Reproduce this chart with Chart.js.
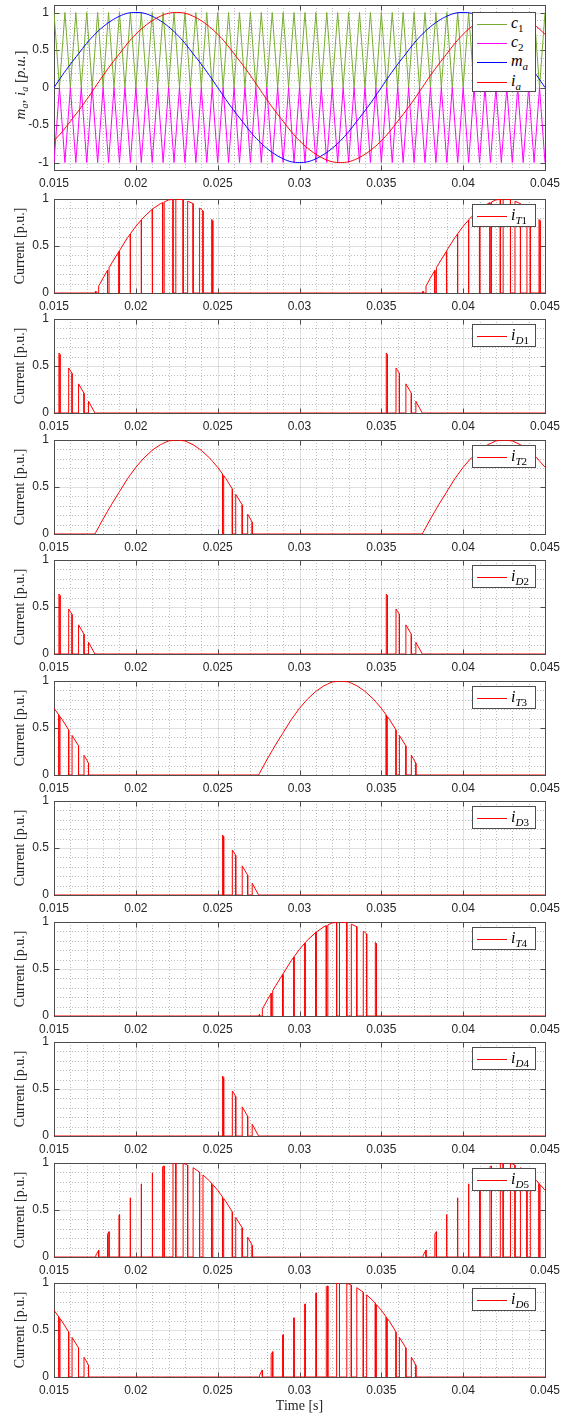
<!DOCTYPE html>
<html>
<head>
<meta charset="utf-8">
<script src="https://cdn.jsdelivr.net/npm/chart.js@4.4.1/dist/chart.umd.min.js"></script>
<style>
  html, body { margin: 0; padding: 0; background: #fff; }
  #figure { position: relative; width: 562px; height: 1419px; overflow: hidden; }
  #figure canvas { position: absolute; left: 0; }
  .legend { position: absolute; left: 472px; width: 64px; background: #fff; border: 1px solid #4d4d4d; box-sizing: border-box; font-family: 'Liberation Serif', 'Times New Roman', serif; color: #000; z-index: 5; }
  .legend .row { position: absolute; left: 0; right: 0; height: 18px; }
  .legend .swatch { position: absolute; left: 4px; top: 9px; width: 30px; height: 1px; }
  .legend .label { position: absolute; left: 38px; top: -1px; font-size: 16px; line-height: 18px; white-space: nowrap; }
  .legend sub { font-size: 11px; vertical-align: -4px; line-height: 0; }
  .ytitle { position: absolute; width: 160px; height: 20px; line-height: 20px; text-align: center; transform: rotate(-90deg); font-family: 'Liberation Serif', 'Times New Roman', serif; font-size: 15px; color: #262626; white-space: nowrap; }
  .ytitle sub { font-size: 10px; vertical-align: -3px; line-height: 0; }
</style>
</head>
<body>
<div id="figure"></div>
<script>
// time window and axis ticks
const tStart = 0.015;
const tEnd = 0.045;
const timeTicks = [0.015, 0.02, 0.025, 0.03, 0.035, 0.04, 0.045];
const signalTicks = [-1, -0.5, 0, 0.5, 1];
const currentTicks = [0, 0.5, 1];

// reference m_a and phase current i_a, sampled every 0.5 ms from 0.015 s
const sampleStep = 0.0005;
const modulation = [
  0, 0.16, 0.31, 0.45, 0.59, 0.71, 0.81, 0.89, 0.95, 0.99, 1, 0.99, 0.95, 0.89, 0.81, 0.71, 0.59, 0.45, 0.31, 0.16,
  0, -0.16, -0.31, -0.45, -0.59, -0.71, -0.81, -0.89, -0.95, -0.99, -1, -0.99, -0.95, -0.89, -0.81, -0.71, -0.59, -0.45, -0.31, -0.16,
  0, 0.16, 0.31, 0.45, 0.59, 0.71, 0.81, 0.89, 0.95, 0.99, 1, 0.99, 0.95, 0.89, 0.81, 0.71, 0.59, 0.45, 0.31, 0.16, 0
];
const phaseCurrent = [
  -0.71, -0.59, -0.45, -0.31, -0.16, 0, 0.16, 0.31, 0.45, 0.59, 0.71, 0.81, 0.89, 0.95, 0.99, 1, 0.99, 0.95, 0.89, 0.81,
  0.71, 0.59, 0.45, 0.31, 0.16, 0, -0.16, -0.31, -0.45, -0.59, -0.71, -0.81, -0.89, -0.95, -0.99, -1, -0.99, -0.95, -0.89, -0.81,
  -0.71, -0.59, -0.45, -0.31, -0.16, 0, 0.16, 0.31, 0.45, 0.59, 0.71, 0.81, 0.89, 0.95, 0.99, 1, 0.99, 0.95, 0.89, 0.81, 0.71
];

// upper carrier c1 vertices every half carrier period (1500 Hz); c2 is its mirror
const carrierStep = 1 / 3000;
const carrierUpper = [
  1, 0, 1, 0, 1, 0, 1, 0, 1, 0, 1, 0, 1, 0, 1, 0, 1, 0, 1, 0, 1, 0, 1, 0, 1, 0, 1, 0, 1, 0,
  1, 0, 1, 0, 1, 0, 1, 0, 1, 0, 1, 0, 1, 0, 1, 0, 1, 0, 1, 0, 1, 0, 1, 0, 1, 0, 1, 0, 1, 0,
  1, 0, 1, 0, 1, 0, 1, 0, 1, 0, 1, 0, 1, 0, 1, 0, 1, 0, 1, 0, 1, 0, 1, 0, 1, 0, 1, 0, 1, 0, 1
];

// signed duty of each carrier period (positive = P pulse, negative = N pulse)
const dutyPerPeriod = [
  0.10, 0.31, 0.50, 0.67, 0.81, 0.91, 0.98, 1.00, 0.98, 0.91, 0.81, 0.67, 0.50, 0.31, 0.10,
  -0.10, -0.31, -0.50, -0.67, -0.81, -0.91, -0.98, -1.00, -0.98, -0.91, -0.81, -0.67, -0.50, -0.31, -0.10,
  0.10, 0.31, 0.50, 0.67, 0.81, 0.91, 0.98, 1.00, 0.98, 0.91, 0.81, 0.67, 0.50, 0.31, 0.10
];

// device subscript markup and when it carries the phase current
const devices = [
  { sub: '<i>T</i>1', on: (s, pos) => s === 'P' && pos },
  { sub: '<i>D</i>1', on: (s, pos) => s === 'P' && !pos },
  { sub: '<i>T</i>2', on: (s, pos) => s !== 'N' && pos },
  { sub: '<i>D</i>2', on: (s, pos) => s === 'P' && !pos },
  { sub: '<i>T</i>3', on: (s, pos) => s !== 'P' && !pos },
  { sub: '<i>D</i>3', on: (s, pos) => s === 'N' && pos },
  { sub: '<i>T</i>4', on: (s, pos) => s === 'N' && !pos },
  { sub: '<i>D</i>4', on: (s, pos) => s === 'N' && pos },
  { sub: '<i>D</i>5', on: (s, pos) => s === 'O' && pos },
  { sub: '<i>D</i>6', on: (s, pos) => s === 'O' && !pos },
];

const panelTops = [5, 199, 319, 440, 560, 681, 801, 922, 1042, 1163, 1283];
const topHeight = 165;
const panelHeight = 94;

const INK = '#262626';
const tickFont = { family: "'Liberation Sans', Arial, sans-serif", size: 12 };
const serifFont = { family: "'Liberation Serif', 'Times New Roman', serif", size: 14 };

const figure = document.getElementById('figure');
const sampleTimes = modulation.map((_, j) => tStart + j * sampleStep);

function currentAt(t) {
  const pos = (t - tStart) / sampleStep;
  const j = Math.max(0, Math.min(Math.floor(pos), phaseCurrent.length - 2));
  const f = pos - j;
  return phaseCurrent[j] + (phaseCurrent[j + 1] - phaseCurrent[j]) * f;
}

const pulses = dutyPerPeriod.map((d, k) => {
  const mid = tStart + (2 * k + 1) * carrierStep;
  const half = Math.abs(d) * carrierStep;
  return { from: mid - half, to: mid + half, level: d > 0 ? 'P' : 'N' };
});

function stateAt(t) {
  for (const p of pulses) if (t >= p.from && t < p.to) return p.level;
  return 'O';
}

function conductionTrace(conducts) {
  const times = sampleTimes.slice();
  pulses.forEach((p) => times.push(p.from, p.to));
  times.sort((a, b) => a - b);
  const eps = 1e-9;
  const valueAt = (t) => {
    const i = currentAt(t);
    return conducts(stateAt(t), i > 0) ? Math.abs(i) : 0;
  };
  const pts = [];
  times.forEach((t, n) => {
    if (n > 0 && t - times[n - 1] < 1e-12) return;
    const before = t > tStart ? valueAt(t - eps) : null;
    const after = t < tEnd ? valueAt(t + eps) : null;
    if (before !== null) pts.push({ x: t, y: before });
    if (after !== null && (before === null || Math.abs(after - before) > 1e-4)) pts.push({ x: t, y: after });
  });
  return pts;
}

// grid, box and inward ticks in the MATLAB look
const axesPlugin = {
  id: 'matlabAxes',
  beforeDatasetsDraw(chart) {
    const { ctx, chartArea: a, scales: { x, y } } = chart;
    const line = (x1, y1, x2, y2) => { ctx.beginPath(); ctx.moveTo(x1, y1); ctx.lineTo(x2, y2); ctx.stroke(); };
    const majorsY = chart.options.scales.y.majors;
    const mX = timeTicks.map((v) => Math.round(v * 1000));
    const mY = majorsY.map((v) => Math.round(v * 10));
    const px = (v) => Math.round(x.getPixelForValue(v)) + 0.5;
    const py = (v) => Math.round(y.getPixelForValue(v)) + 0.5;
    ctx.save();
    ctx.lineWidth = 1;
    // minor grid
    ctx.strokeStyle = 'rgba(38,38,38,0.3)';
    ctx.setLineDash([1, 2]);
    for (let n = 15; n <= 45; n++) {
      if (mX.includes(n)) continue;
      line(px(n / 1000), a.top, px(n / 1000), a.bottom);
    }
    for (let n = Math.ceil(y.min * 10 - 1e-6); n <= Math.floor(y.max * 10 + 1e-6); n++) {
      if (mY.includes(n)) continue;
      line(a.left, py(n / 10), a.right, py(n / 10));
    }
    // major grid
    ctx.setLineDash([]);
    ctx.strokeStyle = 'rgba(38,38,38,0.14)';
    timeTicks.forEach((v) => line(px(v), a.top, px(v), a.bottom));
    majorsY.forEach((v) => line(a.left, py(v), a.right, py(v)));
    // box and ticks
    ctx.strokeStyle = '#4d4d4d';
    const L = Math.round(a.left) + 0.5, R = Math.round(a.right) + 0.5;
    const T = Math.round(a.top) + 0.5, B = Math.round(a.bottom) + 0.5;
    ctx.strokeRect(L, T, R - L, B - T);
    timeTicks.forEach((v) => { line(px(v), B, px(v), B - 5); line(px(v), T, px(v), T + 5); });
    majorsY.forEach((v) => { line(L, py(v), L + 5, py(v)); line(R, py(v), R - 5, py(v)); });
    ctx.restore();
  },
};

const noScalePadding = (s) => { s.paddingLeft = 0; s.paddingRight = 0; s.paddingTop = 0; s.paddingBottom = 0; };

function makePanel({ top, height, datasets, yMin, yMax, yTicks, yTitle, xTitle }) {
  const labelSpace = xTitle ? 42 : 26;
  const canvas = document.createElement('canvas');
  canvas.width = 562;
  canvas.height = 6 + height + labelSpace;
  canvas.style.top = (top - 6) + 'px';
  figure.appendChild(canvas);
  return new Chart(canvas, {
    type: 'line',
    data: { datasets },
    options: {
      responsive: false,
      animation: false,
      events: [],
      layout: { autoPadding: false, padding: { top: 6, right: 17, left: 0, bottom: 0 } },
      plugins: { legend: { display: false }, tooltip: { enabled: false } },
      elements: { point: { radius: 0 }, line: { borderWidth: 1, tension: 0 } },
      scales: {
        x: {
          type: 'linear', min: tStart, max: tEnd,
          grid: { display: false, drawTicks: false }, border: { display: false },
          afterBuildTicks: (s) => { s.ticks = timeTicks.map((v) => ({ value: v })); },
          afterFit: (s) => { s.height = labelSpace; noScalePadding(s); },
          ticks: { padding: 6, color: INK, font: tickFont, maxRotation: 0, autoSkip: false, callback: (v) => String(v) },
          title: xTitle
            ? { display: true, text: xTitle, color: INK, font: serifFont, padding: { top: 0, bottom: 4 } }
            : { display: false },
        },
        y: {
          type: 'linear', min: yMin, max: yMax, majors: yTicks,
          grid: { display: false, drawTicks: false }, border: { display: false },
          afterBuildTicks: (s) => { s.ticks = yTicks.map((v) => ({ value: v })); },
          afterFit: (s) => { s.width = 54; noScalePadding(s); },
          ticks: { padding: 5, color: INK, font: tickFont, autoSkip: false, callback: (v) => String(v) },
          title: yTitle
            ? { display: true, text: yTitle, color: INK, font: serifFont, padding: { top: 12, bottom: 0 } }
            : { display: false },
        },
      },
    },
    plugins: [axesPlugin],
  });
}

function addLegend(top, entries, rowGap) {
  const box = document.createElement('div');
  box.className = 'legend';
  box.style.top = top + 'px';
  box.style.height = (entries.length === 1 ? 23 : 80) + 'px';
  entries.forEach((e, i) => {
    const row = document.createElement('div');
    row.className = 'row';
    row.style.top = (entries.length === 1 ? 2 : Math.round(2 + i * rowGap)) + 'px';
    row.innerHTML = `<span class="swatch" style="background:${e.color}"></span><span class="label">${e.html}</span>`;
    box.appendChild(row);
  });
  figure.appendChild(box);
}

// top panel: carriers, reference and phase current
const series = (values, times) => values.map((v, i) => ({ x: times(i), y: v }));
const vertexTime = (i) => tStart + i * carrierStep;
const sampleTime = (i) => sampleTimes[i];

makePanel({
  top: panelTops[0], height: topHeight,
  yMin: -1.1, yMax: 1.1, yTicks: signalTicks,
  datasets: [
    { data: series(phaseCurrent, sampleTime), borderColor: '#ff0000', tension: 0.4 },
    { data: series(modulation, sampleTime), borderColor: '#0000ff', tension: 0.4 },
    { data: series(carrierUpper.map((v) => -v), vertexTime), borderColor: '#ff00ff' },
    { data: series(carrierUpper, vertexTime), borderColor: '#77ac30' },
  ],
});
addLegend(12, [
  { color: '#77ac30', html: '<i>c</i><sub>1</sub>' },
  { color: '#ff00ff', html: '<i>c</i><sub>2</sub>' },
  { color: '#0000ff', html: '<i>m</i><sub><i>a</i></sub>' },
  { color: '#ff0000', html: '<i>i</i><sub><i>a</i></sub>' },
], 19.2);

const ytitle = document.createElement('div');
ytitle.className = 'ytitle';
ytitle.style.left = (20 - 80) + 'px';
ytitle.style.top = (85 - 10) + 'px';
ytitle.innerHTML = '<i>m</i><sub><i>a</i></sub>, <i>i</i><sub><i>a</i></sub> [<i>p.u.</i>]';
figure.appendChild(ytitle);

// device current panels
devices.forEach((dev, n) => {
  const top = panelTops[n + 1];
  makePanel({
    top, height: panelHeight,
    yMin: 0, yMax: 1, yTicks: currentTicks,
    yTitle: 'Current [p.u.]',
    xTitle: n === devices.length - 1 ? 'Time [s]' : null,
    datasets: [{ data: conductionTrace(dev.on), borderColor: '#ff0000' }],
  });
  addLegend(top + 5, [{ color: '#ff0000', html: `<i>i</i><sub>${dev.sub}</sub>` }], 0);
});
</script>
</body>
</html>
